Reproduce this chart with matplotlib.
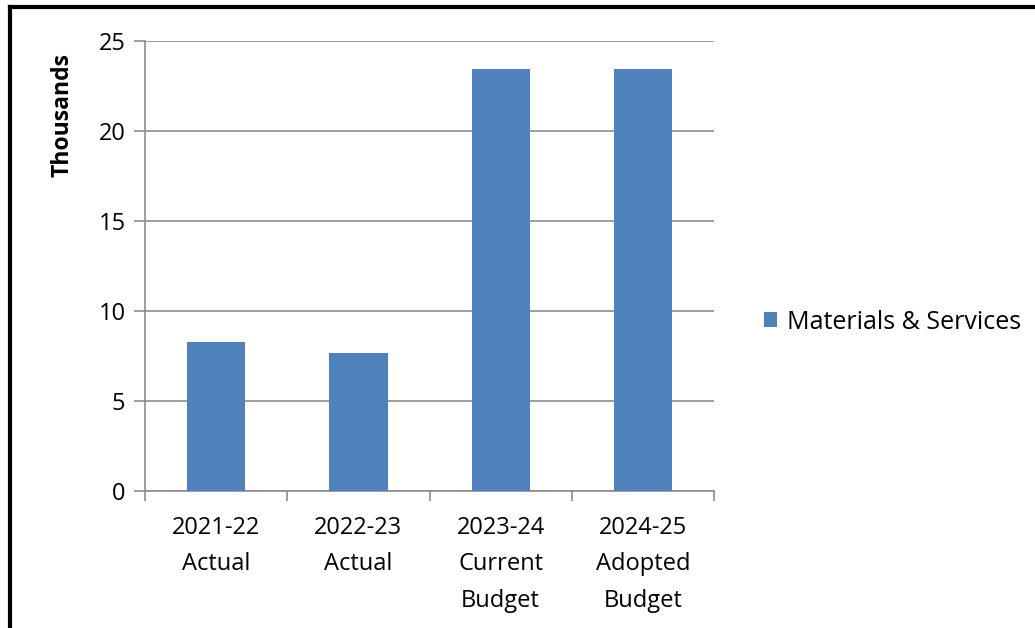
import matplotlib.pyplot as plt
from matplotlib.lines import Line2D
from matplotlib.patches import Patch
import numpy as np

plt.rcParams["font.family"] = ["Open Sans", "DejaVu Sans"]

categories = ["2021-22\nActual", "2022-23\nActual", "2023-24\nCurrent\nBudget", "2024-25\nAdopted\nBudget"]
values = [8.28, 7.67, 23.44, 23.44]  # thousands
series_name = "Materials & Services"

BAR_COLOR = "#4f81bd"
GRID_COLOR = "#8c8c8c"
FS = 17

fig = plt.figure(figsize=(10.35, 6.28), dpi=100)
ax = fig.add_axes([0.140, 0.218, 0.550, 0.717])

x = np.arange(len(categories))
ax.bar(x, values, width=0.41, color=BAR_COLOR, zorder=3)

ax.set_xlim(-0.5, len(categories) - 0.5)
ax.set_ylim(0, 25)
ax.set_yticks([0, 5, 10, 15, 20, 25])
ax.yaxis.grid(True, color=GRID_COLOR, linewidth=1.2, zorder=0)

# category labels centred, tick marks on the boundaries
ax.set_xticks(x)
ax.set_xticklabels(categories, fontsize=FS, linespacing=1.68)
ax.tick_params(axis="x", length=0, pad=18)
ax.set_xticks(np.arange(len(categories) + 1) - 0.5, minor=True)
ax.tick_params(axis="x", which="minor", length=7, width=1.2, color=GRID_COLOR, direction="out")
ax.tick_params(axis="y", length=8, width=1.2, color=GRID_COLOR, labelsize=FS, pad=6)

for side in ["top", "right"]:
    ax.spines[side].set_visible(False)
for side in ["left", "bottom"]:
    ax.spines[side].set_color(GRID_COLOR)
    ax.spines[side].set_linewidth(1.2)

ax.set_ylabel("Thousands", fontsize=16.5, fontweight="bold")
ax.yaxis.set_label_coords(-0.123, 0.835)

handles = [Patch(facecolor=BAR_COLOR, label=series_name)]
fig.legend(handles=handles, loc="center left", bbox_to_anchor=(0.716, 0.487),
           frameon=False, fontsize=18, handlelength=0.55, handleheight=0.55,
           handletextpad=0.4)

# outer frame (cropped at right and bottom)
fig.add_artist(Line2D([0.010, 0.010], [0.0, 0.989], color="black", linewidth=3,
                      transform=fig.transFigure))
fig.add_artist(Line2D([0.010, 1.0], [0.989, 0.989], color="black", linewidth=3,
                      transform=fig.transFigure))

fig.savefig("out.png", dpi=100)
